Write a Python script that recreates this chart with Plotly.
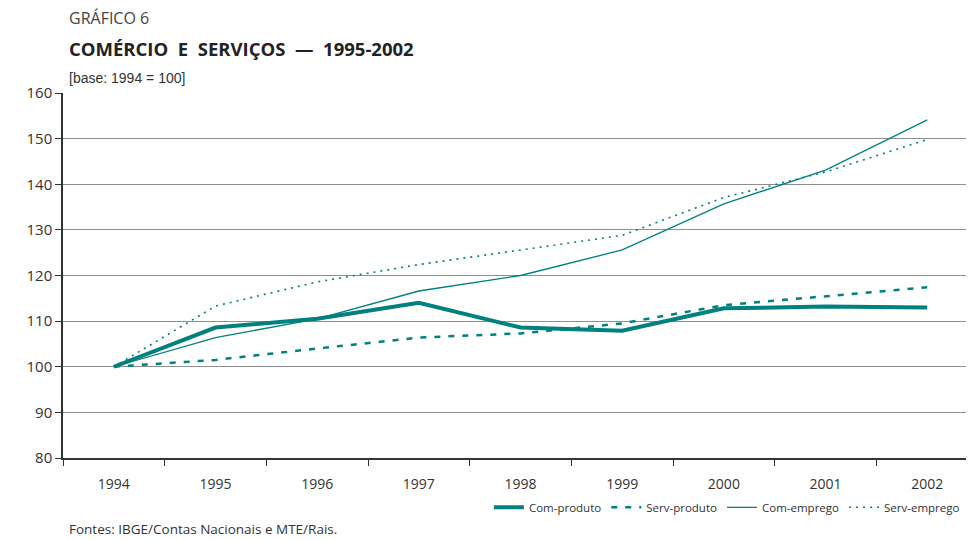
import plotly.graph_objects as go

years = ["1994", "1995", "1996", "1997", "1998", "1999", "2000", "2001", "2002"]
com_produto = [100, 108.6, 110.5, 114.0, 108.6, 107.9, 112.8, 113.2, 113.0]
serv_produto = [100, 101.5, 104.0, 106.4, 107.3, 109.5, 113.5, 115.5, 117.4]
com_emprego = [100, 106.4, 110.5, 116.6, 120.0, 125.6, 135.7, 143.1, 154.1]
serv_emprego = [100, 113.3, 118.6, 122.4, 125.6, 128.8, 137.1, 142.7, 149.8]
y_ticks = [80, 90, 100, 110, 120, 130, 140, 150, 160]

teal = "#00807E"
font_main = "Open Sans, Liberation Sans Narrow, sans-serif"

fig = go.Figure()
fig.add_trace(go.Scatter(x=years, y=com_produto, name="Com-produto", mode="lines",
                         line=dict(color=teal, width=4)))
fig.add_trace(go.Scatter(x=years, y=serv_produto, name="Serv-produto", mode="lines",
                         line=dict(color=teal, width=2.5, dash="6px,8px")))
fig.add_trace(go.Scatter(x=years, y=com_emprego, name="Com-emprego", mode="lines",
                         line=dict(color=teal, width=1.3)))
fig.add_trace(go.Scatter(x=years, y=serv_emprego, name="Serv-emprego", mode="lines",
                         line=dict(color=teal, width=1.6, dash="2px,5px")))

fig.update_layout(
    width=966, height=532,
    margin=dict(l=55, r=0, t=85, b=82),
    plot_bgcolor="white", paper_bgcolor="white",
    font=dict(family=font_main, color="#333333", size=14),
    xaxis=dict(type="category", range=[-0.5, 8.46], showgrid=False,
               showline=True, linecolor="#333333", linewidth=1.5,
               ticks="outside", tickson="boundaries", ticklen=6, tickcolor="#333333",
               ticklabelstandoff=12,
               tickfont=dict(size=14, color="#333333")),
    yaxis=dict(range=[80, 160], tickvals=y_ticks, showgrid=True, gridcolor="#8f8f8f",
               gridwidth=1.2, showline=True, linecolor="#333333", linewidth=1.5,
               ticks="outside", ticklen=6, tickcolor="#333333", zeroline=False,
               tickfont=dict(size=15, color="#333333")),
    legend=dict(orientation="h", x=0.99, xanchor="right", y=-0.135, yanchor="middle",
                font=dict(size=11.5, color="#333333"), itemwidth=30,
                bgcolor="rgba(0,0,0,0)", tracegroupgap=0),
    showlegend=True,
)

fig.add_annotation(text="GRÁFICO 6", xref="paper", yref="paper", x=0.0, y=1.0,
                   xshift=4, yshift=75, xanchor="left", yanchor="middle", showarrow=False,
                   font=dict(size=16, color="#444444", family=font_main))
fig.add_annotation(text="<b>COMÉRCIO  E  SERVIÇOS  —  1995-2002</b>", xref="paper", yref="paper",
                   x=0.0, y=1.0, xshift=4, yshift=45, xanchor="left", yanchor="middle", showarrow=False,
                   font=dict(size=18.5, color="#222222", family=font_main))
fig.add_annotation(text="[base: 1994 = 100]", xref="paper", yref="paper", x=0.0, y=1.0,
                   xshift=4, yshift=15, xanchor="left", yanchor="middle", showarrow=False,
                   font=dict(size=14, color="#333333", family="Liberation Sans Narrow, sans-serif"))
fig.add_annotation(text="Fontes: IBGE/Contas Nacionais e MTE/Rais.", xref="paper", yref="paper",
                   x=0.0, y=0, xshift=4, yshift=-71, xanchor="left", yanchor="middle", showarrow=False,
                   font=dict(size=13.5, color="#333333", family=font_main))

fig.write_html("out.html")
